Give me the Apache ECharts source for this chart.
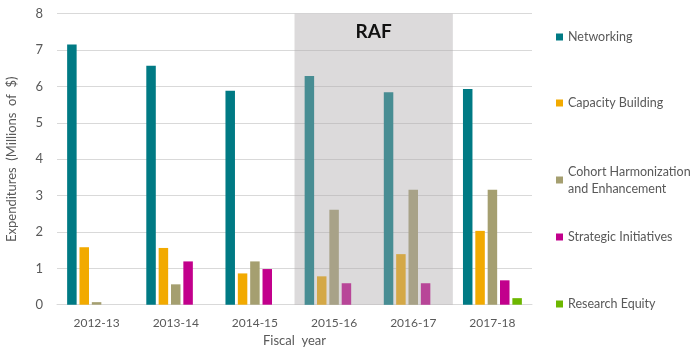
<!DOCTYPE html>
<html>
<head>
<meta charset="utf-8">
<script src="https://cdn.jsdelivr.net/npm/echarts@6/dist/echarts.min.js"></script>
<style>html,body{margin:0;padding:0;background:#fff}#c{width:700px;height:350px}</style>
</head>
<body>
<div id="c"></div>
<script>
var categories = ['2012-13', '2013-14', '2014-15', '2015-16', '2016-17', '2017-18'];
var networking = [7.15, 6.57, 5.88, 6.29, 5.84, 5.93];
var capacityBuilding = [1.58, 1.56, 0.86, 0.78, 1.39, 2.03];
var cohortHarmonization = [0.07, 0.56, 1.19, 2.61, 3.16, 3.16];
var strategicInitiatives = [0, 1.19, 0.98, 0.59, 0.59, 0.67];
var researchEquity = [0, 0, 0, 0, 0, 0.18];
var yTicks = [0, 1, 2, 3, 4, 5, 6, 7, 8];
var seriesNames = ['Networking', 'Capacity Building', 'Cohort Harmonization\nand Enhancement', 'Strategic Initiatives', 'Research Equity'];
var seriesValues = [networking, capacityBuilding, cohortHarmonization, strategicInitiatives, researchEquity];
var colors = ['#007A84', '#F2AA00', '#A59F70', '#C2008C', '#6DB700'];
var rafStart = 3, rafEnd = 5; // category index range of the RAF period

var font = 'Lato, "Liberation Sans", sans-serif';
var chart = echarts.init(document.getElementById('c'));

var series = seriesValues.map(function (vals, i) {
  return {
    name: seriesNames[i],
    type: 'bar',
    data: vals,
    barWidth: 9.5,
    barGap: '30%',
    itemStyle: { color: colors[i] },
    z: 2
  };
});
series.push({
  type: 'line',
  xAxisIndex: 1,
  data: [[0, 0]],
  symbol: 'none',
  lineStyle: { opacity: 0 },
  silent: true,
  z: 5,
  markArea: {
    z: 5,
    silent: true,
    itemStyle: { color: 'rgba(172,168,170,0.42)' },
    label: { show: true, position: 'insideTop', distance: 9, formatter: 'RAF', fontSize: 19, fontWeight: 'bold', color: '#111', fontFamily: font },
    data: [[{ xAxis: rafStart, yAxis: yTicks[yTicks.length - 1] }, { xAxis: rafEnd, yAxis: 0 }]]
  }
});

var legendTops = [28.5, 94.5, 163, 228.5, 295.5];
var legends = seriesNames.map(function (n, i) {
  return {
    data: [n],
    left: 556,
    top: legendTops[i],
    padding: 0,
    orient: 'vertical',
    icon: 'rect',
    itemWidth: 7,
    itemHeight: 7,
    itemGap: 4,
    textStyle: { fontFamily: font, fontSize: 12.5, color: '#595959', lineHeight: 17 },
    selectedMode: false
  };
});

chart.setOption({
  animation: false,
  textStyle: { fontFamily: font },
  grid: { left: 57, right: 168, top: 13.7, bottom: 45.3, outerBoundsMode: 'none', containLabel: false },
  legend: legends,
  xAxis: [{
    type: 'category',
    data: categories,
    name: 'Fiscal  year',
    nameLocation: 'middle',
    nameGap: 30,
    nameTextStyle: { fontSize: 13, color: '#595959', fontFamily: font },
    axisLine: { lineStyle: { color: '#D9D9D9' } },
    axisTick: { show: false },
    axisLabel: { fontSize: 12, color: '#595959', margin: 12, fontFamily: font }
  }, {
    type: 'value',
    min: 0,
    max: categories.length,
    show: false
  }],
  yAxis: {
    type: 'value',
    min: yTicks[0],
    max: yTicks[yTicks.length - 1],
    interval: 1,
    name: 'Expenditures  (Millions  of  $)',
    nameLocation: 'middle',
    nameGap: 39,
    nameTextStyle: { fontSize: 13, color: '#595959', fontFamily: font },
    axisLine: { show: false },
    axisTick: { show: false },
    axisLabel: { fontSize: 13, color: '#595959', margin: 14, fontFamily: font },
    splitLine: { lineStyle: { color: '#D9D9D9', width: 1 } }
  },
  series: series
});
</script>
</body>
</html>
